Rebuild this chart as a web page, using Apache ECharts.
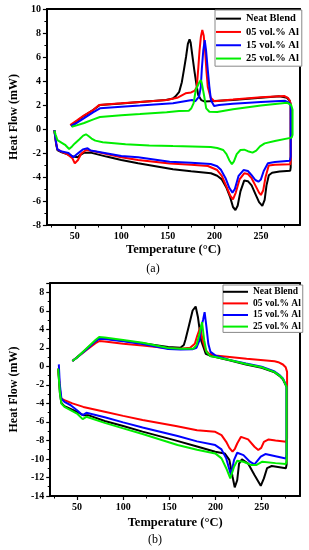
<!DOCTYPE html>
<html><head><meta charset="utf-8">
<script src="https://cdn.jsdelivr.net/npm/echarts@6/dist/echarts.min.js"></script>
<style>html,body{margin:0;padding:0;background:#fff}#c{width:309px;height:550px}</style>
</head><body><div id="c"></div>
<script>
// ---- data ----
const seriesNames = ['Neat Blend', '05 vol.% Al', '15 vol.% Al', '25 vol.% Al'];
const seriesColors = ['#000000', '#ff0000', '#0000ff', '#00ee00'];
const xMajorTicks = [50, 100, 150, 200, 250];
const xMinorTicks = [25, 75, 125, 175, 225, 275];

// Panel (a): [Temperature °C, Heat Flow mW] traced heating (lower) then cooling (upper)
const neatBlendA = [[28,-0.1],[30,-1.3],[31.3,-1.75],[36,-1.95],[41.5,-2.08],[48.4,-2.3],[50,-2.44],[53,-2.35],[56,-2.15],[60.2,-1.97],[67,-1.97],[84,-2.3],[100,-2.58],[118,-2.86],[155.5,-3.36],[175,-3.52],[196.3,-3.69],[203,-3.9],[208,-4.2],[213,-4.9],[217,-5.7],[220,-6.5],[222.6,-6.75],[225,-6.4],[228,-5.2],[232,-4.3],[236,-4.35],[240,-4.7],[244,-5.4],[248,-6.1],[251.5,-6.4],[254,-5.9],[256,-4.7],[258.5,-3.85],[262,-3.65],[270,-3.55],[281.5,-3.47],[282,-3.2],[282,2.0],[281,2.35],[278,2.6],[270,2.72],[250,2.6],[220,2.42],[200,2.33],[189,2.3],[186,2.4],[182.6,2.83],[180.5,3.8],[178.4,4.9],[176,6.3],[174.5,7.2],[173.3,7.47],[171.5,7.1],[169.5,6.0],[167.2,4.9],[165,3.9],[162.2,3.1],[158,2.7],[155.5,2.55],[148,2.42],[120,2.25],[100,2.12],[77,2.0],[70,1.6],[60,1.1],[52,0.65],[46,0.25]];
const vol05A = [[28,-0.1],[30,-1.2],[31.3,-1.7],[36,-1.9],[41.5,-2.08],[47.4,-2.44],[50,-2.86],[53.4,-2.58],[57,-2.05],[62,-1.75],[70.5,-1.86],[100,-2.35],[118,-2.58],[152,-2.88],[175,-2.98],[193,-3.08],[203,-3.42],[208,-3.9],[213,-4.8],[217,-5.55],[220,-5.86],[223,-5.3],[227,-4.2],[232,-3.69],[236,-3.75],[240,-4.1],[244,-4.7],[248,-5.3],[250,-5.5],[252.5,-5.1],[255,-4.0],[258.4,-3.05],[265,-2.98],[281.5,-2.94],[282,-2.6],[282,2.1],[281,2.35],[279,2.6],[275,2.75],[250,2.65],[220,2.45],[200,2.32],[196,2.6],[192.9,3.5],[191.5,4.8],[190.2,6.3],[188.5,7.8],[187,8.25],[185.5,7.7],[184,6.5],[182.8,5.2],[181.1,3.5],[179,3.2],[175,3.05],[169,2.97],[160,2.6],[148.7,2.42],[120,2.25],[100,2.15],[76,2.0],[70,1.6],[60,1.14],[52,0.7],[45,0.33]];
const vol15A = [[28,-0.1],[30,-1.2],[31.3,-1.7],[36,-1.88],[43.2,-2.0],[48.4,-2.36],[53.4,-2.03],[58.6,-1.7],[63.7,-1.6],[67,-1.8],[100,-2.25],[118,-2.36],[152,-2.72],[175,-2.82],[196,-2.92],[203,-3.1],[207,-3.4],[212,-4.1],[216,-4.9],[219.4,-5.3],[222,-5.0],[226,-3.9],[231.3,-3.42],[236,-3.5],[240,-3.85],[244,-4.25],[247.3,-4.39],[250,-4.2],[253,-3.5],[257.5,-2.86],[265,-2.75],[281,-2.64],[282,-2.3],[282,1.9],[280.5,2.2],[276,2.35],[250,2.25],[220,2.1],[205,2.0],[199.7,1.92],[196.3,2.4],[194.5,3.6],[192.9,4.9],[191,6.6],[189.6,7.4],[188,6.5],[186.5,5.0],[185.4,3.5],[183.5,2.7],[179.3,2.3],[176,2.42],[155.5,2.14],[120,1.95],[100,1.85],[77,1.72],[70,1.4],[60,0.9],[52,0.5],[46,0.25]];
const vol25A = [[28,-0.14],[29.5,-0.5],[31.3,-0.92],[36,-1.15],[40,-1.35],[43.9,-1.67],[47,-1.45],[50,-1.2],[55,-0.85],[59,-0.55],[62,-0.44],[65,-0.6],[68,-0.8],[72,-0.97],[80,-1.1],[104.5,-1.28],[130,-1.38],[155.5,-1.42],[176,-1.45],[196,-1.5],[203,-1.58],[209.5,-1.75],[213,-2.1],[216,-2.6],[218.8,-2.94],[221,-2.7],[224,-2.1],[228,-1.75],[232,-1.72],[236,-1.85],[241,-1.97],[245,-1.8],[249,-1.45],[254,-1.2],[265,-1.0],[283,-0.72],[284,-0.5],[284,1.6],[282.5,2.0],[278,2.19],[250,1.95],[220,1.65],[203,1.42],[194.6,1.44],[191.2,1.72],[188.8,2.83],[186.5,3.8],[185.4,4.08],[183.5,3.85],[180,3.25],[177.6,2.14],[175,1.7],[172.5,1.52],[162,1.5],[148.7,1.4],[120,1.25],[100,1.15],[77,1.0],[70,0.8],[60,0.5],[52,0.3],[46.6,0.19]];

// Panel (b)
const neatBlendB = [[29.6,-0.25],[30.5,-1.5],[31.5,-2.9],[33,-3.95],[36.4,-4.3],[43,-4.6],[50,-4.92],[56.8,-5.27],[62,-5.27],[80,-5.9],[100,-6.45],[121,-7.05],[155.5,-7.97],[180,-8.65],[199.7,-9.22],[209.9,-9.4],[215,-10.1],[218.4,-11.9],[220.8,-13.06],[223.5,-12.3],[225.5,-10.5],[228.6,-10.05],[235.3,-10.5],[242.2,-11.73],[249,-12.9],[252.4,-12.1],[255.8,-11.0],[260.9,-10.76],[276.2,-11.0],[277,-10.6],[277,-2.2],[275.5,-1.9],[273,-1.4],[270,-1.1],[264,-0.65],[250,-0.15],[233,0.2],[215,0.65],[200,1.0],[194,1.15],[189.5,1.35],[187.8,1.56],[184.4,2.8],[181,5.3],[178.5,6.46],[175.2,6.03],[170.8,4.23],[167.5,2.9],[165.7,2.3],[162,2.0],[148.7,2.08],[121,2.5],[100,2.75],[80,3.0],[74,3.05],[70,2.75],[60,1.85],[50,0.97],[45,0.57]];
const vol05B = [[29.6,-0.25],[30.5,-1.2],[31.5,-2.5],[33,-3.48],[36.4,-3.66],[45,-4.0],[56.8,-4.38],[80,-4.9],[100,-5.35],[121,-5.8],[157,-6.45],[180,-6.9],[199.7,-7.07],[206.5,-7.43],[211.6,-8.15],[215,-8.8],[218.4,-9.22],[221,-8.9],[223.5,-8.33],[227.6,-7.61],[235.3,-7.89],[242.2,-8.68],[246.3,-9.04],[249.5,-8.8],[252.4,-8.15],[257.5,-7.89],[265,-8.0],[276.5,-8.15],[277.5,-7.8],[277.5,-0.6],[276,-0.1],[273,0.2],[268,0.45],[264,0.54],[233.7,0.83],[199.7,1.18],[192.9,1.36],[189.5,1.72],[186.1,2.8],[183.5,4.2],[180.3,3.33],[177.6,2.44],[172.5,2.0],[162,1.9],[148.7,1.95],[121,2.26],[100,2.45],[80,2.68],[74,2.73],[70,2.5],[60,1.75],[50,0.95],[45,0.57]];
const vol15B = [[30.3,0.21],[31.3,-1.87],[33.1,-3.48],[36.4,-3.84],[43.2,-4.2],[50,-4.74],[56.1,-5.27],[60.2,-5.02],[80,-5.5],[100,-6.05],[121,-6.6],[158.9,-7.53],[180,-8.1],[199.7,-8.5],[206.5,-8.97],[211.6,-9.94],[216.7,-11.73],[220.1,-10.1],[223.5,-9.33],[230.3,-9.58],[237.2,-10.3],[242.2,-10.59],[249,-9.76],[254,-9.47],[265,-9.7],[276.2,-9.94],[277,-9.5],[277,-2.2],[275.5,-1.85],[273,-1.3],[270,-1.0],[264,-0.55],[250,-0.05],[233,0.3],[215,0.7],[199.7,1.18],[194.6,1.56],[192.2,2.44],[190.2,4.23],[188.2,5.85],[186.5,5.0],[184.4,4.23],[182.6,2.8],[179.3,2.0],[175,1.85],[162,1.83],[148.7,1.88],[121,2.4],[100,2.7],[80,2.95],[74,2.98],[70,2.7],[60,1.8],[50,0.95],[45,0.57]];
const vol25B = [[29.6,-0.25],[30.5,-1.5],[31.5,-2.9],[33.1,-4.02],[36.4,-4.38],[50,-5.1],[56.1,-5.7],[60.2,-5.45],[80,-6.1],[100,-6.7],[121,-7.3],[158.9,-8.5],[180,-9.0],[199.7,-9.4],[206.5,-9.94],[211.6,-11.0],[216,-12.1],[220.1,-10.84],[223.5,-10.2],[230.3,-10.3],[238.9,-10.66],[244,-10.66],[250.7,-10.3],[265,-10.45],[276.2,-10.55],[277,-10.2],[277,-2.2],[275.5,-1.9],[273,-1.35],[270,-1.05],[264,-0.62],[250,-0.1],[233,0.25],[215,0.68],[200,1.0],[194.6,1.08],[190.2,1.56],[187.8,2.8],[185.4,4.77],[182.6,3.5],[179.3,2.26],[175.9,1.9],[162,1.9],[148.7,1.98],[121,2.55],[100,2.85],[80,3.12],[74,3.16],[70,2.85],[60,1.9],[50,0.95],[45,0.57]];

const panelA = [neatBlendA, vol05A, vol15A, vol25A];
const panelB = [neatBlendB, vol05B, vol15B, vol25B];

// ---- layout ----
const FONT = '"Liberation Serif", "Times New Roman", serif';
const chart = echarts.init(document.getElementById('c'), null, {renderer: 'canvas'});
const axisLineStyle = {show: true, onZero: false, lineStyle: {color: '#000', width: 2}};

function xAxes(gridIndex, min, max, nameGap) {
  const common = {gridIndex, type: 'value', min, max, splitLine: {show: false}};
  return [
    Object.assign({}, common, {
      position: 'bottom',
      axisLine: axisLineStyle,
      axisTick: {show: true, inside: false, length: 4, customValues: xMajorTicks, lineStyle: {color: '#000', width: 1.2}},
      axisLabel: {show: true, customValues: xMajorTicks, margin: 6, color: '#000', fontFamily: FONT, fontWeight: 'bold', fontSize: 10},
      name: 'Temperature (°C)', nameLocation: 'middle', nameGap,
      nameTextStyle: {color: '#000', fontFamily: FONT, fontWeight: 'bold', fontSize: 12.5}
    }),
    Object.assign({}, common, {
      position: 'bottom',
      axisLine: {show: false, onZero: false},
      axisTick: {show: true, inside: false, length: 2.5, customValues: xMinorTicks, lineStyle: {color: '#000', width: 1}},
      axisLabel: {show: false}
    }),
    Object.assign({}, common, {
      position: 'top', axisLine: axisLineStyle, axisTick: {show: false}, axisLabel: {show: false}
    })
  ];
}
function yAxes(gridIndex, min, max, nameGap, showMax) {
  return [{
    gridIndex, type: 'value', min, max, interval: 2, position: 'left',
    splitLine: {show: false},
    axisLine: axisLineStyle,
    axisTick: {show: true, inside: false, length: 4, lineStyle: {color: '#000', width: 1.2}},
    minorTick: {show: true, splitNumber: 2, length: 2.5, lineStyle: {color: '#000', width: 1}},
    axisLabel: {margin: 6, color: '#000', fontFamily: FONT, fontWeight: 'bold', fontSize: 10, showMaxLabel: showMax},
    name: 'Heat Flow (mW)', nameLocation: 'middle', nameGap, nameRotate: 90,
    nameTextStyle: {color: '#000', fontFamily: FONT, fontWeight: 'bold', fontSize: 12}
  }, {
    gridIndex, type: 'value', min, max, position: 'right', splitLine: {show: false},
    axisLine: axisLineStyle, axisTick: {show: false}, axisLabel: {show: false}
  }];
}
function legend(left, top, fs, lh, pad) {
  return {
    data: seriesNames, orient: 'vertical', left, top, icon: 'rect', itemWidth: 25, itemHeight: 2,
    itemGap: 0, padding: pad, backgroundColor: '#fff', borderColor: '#888', borderWidth: 1,
    selectedMode: false,
    textStyle: {color: '#000', fontFamily: FONT, fontWeight: 'bold', fontSize: fs, lineHeight: lh}
  };
}

const series = [];
panelA.forEach((d, i) => series.push({
  name: seriesNames[i], type: 'line', xAxisIndex: 0, yAxisIndex: 0, data: d,
  symbol: 'none', showSymbol: false, color: seriesColors[i],
  lineStyle: {width: 2, color: seriesColors[i]}, animation: false, z: 2 + i
}));
panelB.forEach((d, i) => series.push({
  name: seriesNames[i], type: 'line', xAxisIndex: 3, yAxisIndex: 2, data: d,
  symbol: 'none', showSymbol: false, color: seriesColors[i],
  lineStyle: {width: 2, color: seriesColors[i]}, animation: false, z: 2 + i
}));

chart.setOption({
  backgroundColor: '#fff',
  animation: false,
  grid: [
    {left: 34, top: 9, width: 266, height: 216},
    {left: 35, top: 283, width: 265, height: 213}
  ],
  xAxis: [...xAxes(0, 20, 292, 18), ...xAxes(1, 21, 291.5, 20)],
  yAxis: [...yAxes(0, -8, 10, 20, true), ...yAxes(1, -14, 9, 19, false)],
  legend: [legend(215, 10, 10.5, 13.3, [2, 3, 1, 1]), legend(223, 285, 9.5, 11.6, [1, 2, 0, 0])],
  graphic: [
    {type: 'text', x: 153, y: 269, style: {text: '(a)', textAlign: 'center', textVerticalAlign: 'middle', font: '12px "Liberation Serif"', fill: '#000'}},
    {type: 'text', x: 155, y: 540, style: {text: '(b)', textAlign: 'center', textVerticalAlign: 'middle', font: '12px "Liberation Serif"', fill: '#000'}}
  ],
  series
});
</script>
</body></html>
